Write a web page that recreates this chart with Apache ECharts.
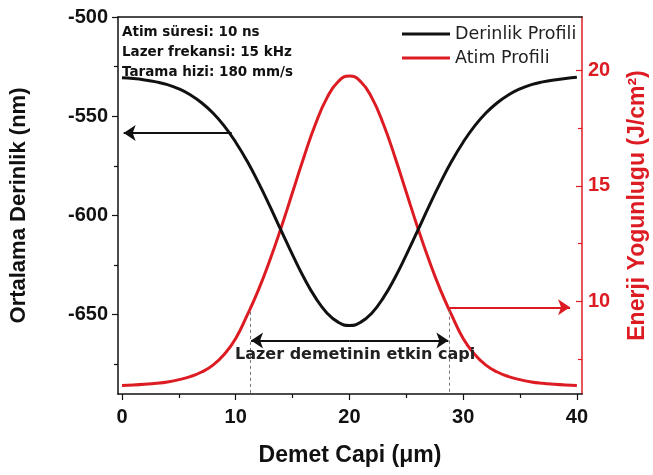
<!DOCTYPE html>
<html>
<head>
<meta charset="utf-8">
<script src="https://cdn.jsdelivr.net/npm/echarts@6/dist/echarts.min.js"></script>
<style>
html,body{margin:0;padding:0;background:#fff;}
#chart{width:653px;height:475px;}
</style>
</head>
<body>
<div id="chart"></div>
<script>
// ---- data ----
const xValues = [0,1,2,3,4,5,6,7,8,9,10,11,12,13,14,15,16,17,18,19,20,21,22,23,24,25,26,27,28,29,30,31,32,33,34,35,36,37,38,39,40];
const depthProfile = [-530.6,-531.0,-531.7,-532.7,-534.1,-536.2,-539.2,-543.2,-548.4,-555.0,-563.1,-572.6,-583.5,-595.3,-607.7,-619.9,-631.4,-641.3,-649.0,-653.8,-655.5,
  -653.8,-649.0,-641.3,-631.4,-619.9,-607.7,-595.3,-583.5,-572.6,-563.1,-555.0,-548.4,-543.2,-539.2,-536.2,-534.1,-532.7,-531.7,-531.0,-530.4];
const pulseProfile = [6.37,6.39,6.42,6.46,6.52,6.62,6.75,6.95,7.25,7.72,8.4,9.4,10.5,11.78,13.2,14.72,16.25,17.65,18.78,19.5,19.75,
  19.5,18.78,17.65,16.25,14.72,13.2,11.78,10.5,9.4,8.4,7.72,7.25,6.95,6.75,6.62,6.52,6.46,6.42,6.39,6.37];
const xMajorTicks = [0,10,20,30,40];
const xMinorTicks = [5,15,25,35];
const leftMajorTicks = [-650,-600,-550,-500];
const leftMinorTicks = [-675,-625,-575,-525];
const rightMajorTicks = [10,15,20];
const rightMinorTicks = [7.5,12.5,17.5];
const seriesNames = ['Derinlik Profili','Atim Profili'];
const infoLines = ['Atim süresi: 10 ns','Lazer frekansi: 15 kHz','Tarama hizi: 180 mm/s'];
const beamLabel = 'Lazer demetinin etkin capi';
const beamEdges = [11.25, 28.8];

const RED = '#dc1c22';
const BLK = '#111111';
const FONT = '"Liberation Sans", Arial, sans-serif';

const chart = echarts.init(document.getElementById('chart'));
const depthData = xValues.map((x,i)=>[x, depthProfile[i]]);
const pulseData = xValues.map((x,i)=>[x, pulseProfile[i]]);

const tickLabel = {fontFamily: FONT, fontWeight: 'bold', fontSize: 20, color: BLK};

chart.setOption({
  animation: false,
  grid: {left: 118, right: 71, top: 17, bottom: 81, containLabel: false, outerBoundsMode: 'none'},
  legend: {
    left: 397, top: 19, orient: 'vertical',
    icon: 'rect', itemWidth: 48, itemHeight: 3, itemGap: 4,
    textStyle: {fontFamily: '"DejaVu Sans", sans-serif', fontSize: 17.5, color: '#222', lineHeight: 20},
    data: seriesNames
  },
  xAxis: [
    {type: 'value', min: -0.35, max: 40.45, position: 'bottom',
     axisLine: {show: true, onZero: false, lineStyle: {color: BLK, width: 1.5}},
     axisTick: {show: true, customValues: xMajorTicks, length: 6, inside: false, lineStyle: {color: BLK, width: 1.2}},
     axisLabel: {customValues: xMajorTicks, margin: 13, ...tickLabel},
     splitLine: {show: false},
     name: 'Demet Capi (μm)', nameLocation: 'middle', nameGap: 50,
     nameTextStyle: {fontFamily: FONT, fontWeight: 'bold', fontSize: 23, color: BLK}},
    {type: 'value', min: -0.35, max: 40.45, position: 'bottom',
     axisLine: {show: false, onZero: false},
     axisTick: {show: true, customValues: xMinorTicks, length: 4, lineStyle: {color: BLK, width: 1.2}},
     axisLabel: {show: false}, splitLine: {show: false}},
    {type: 'value', min: -0.35, max: 40.45, position: 'top',
     axisLine: {show: true, onZero: false, lineStyle: {color: BLK, width: 1.5}},
     axisTick: {show: false}, axisLabel: {show: false}, splitLine: {show: false}}
  ],
  yAxis: [
    {type: 'value', min: -690, max: -500, position: 'left',
     axisLine: {show: true, onZero: false, lineStyle: {color: BLK, width: 1.5}},
     axisTick: {show: true, customValues: leftMajorTicks, length: 6, lineStyle: {color: BLK, width: 1.2}},
     axisLabel: {customValues: leftMajorTicks, margin: 10, ...tickLabel},
     splitLine: {show: false},
     name: 'Ortalama Derinlik (nm)', nameLocation: 'middle', nameGap: 88, nameRotate: 90,
     nameTextStyle: {fontFamily: FONT, fontWeight: 'bold', fontSize: 22, color: BLK}},
    {type: 'value', min: -690, max: -500, position: 'left',
     axisLine: {show: false, onZero: false},
     axisTick: {show: true, customValues: leftMinorTicks, length: 4, lineStyle: {color: BLK, width: 1.2}},
     axisLabel: {show: false}, splitLine: {show: false}},
    {type: 'value', min: 6, max: 22.3, position: 'right',
     axisLine: {show: true, onZero: false, lineStyle: {color: RED, width: 1.5}},
     axisTick: {show: true, inside: true, customValues: rightMajorTicks, length: 6, lineStyle: {color: RED, width: 1.2}},
     axisLabel: {customValues: rightMajorTicks, margin: 6, ...tickLabel, color: RED},
     splitLine: {show: false},
     name: 'Enerji Yogunlugu (J/cm²)', nameLocation: 'middle', nameGap: 44, nameRotate: 90,
     nameTextStyle: {fontFamily: FONT, fontWeight: 'bold', fontSize: 23, color: RED}},
    {type: 'value', min: 6, max: 22.3, position: 'right',
     axisLine: {show: false, onZero: false},
     axisTick: {show: true, inside: true, customValues: rightMinorTicks, length: 4, lineStyle: {color: RED, width: 1.2}},
     axisLabel: {show: false}, splitLine: {show: false}}
  ],
  graphic: infoLines.map((t,i)=>({
    type: 'text', left: 122, top: 25 + i*20, z: 10,
    style: {text: t, fontFamily: '"DejaVu Sans", sans-serif', fontWeight: 'bold', fontSize: 13.5, fill: BLK}
  })),
  series: [
    {name: seriesNames[0], type: 'line', xAxisIndex: 0, yAxisIndex: 0, data: depthData,
     smooth: true, symbol: 'none', lineStyle: {color: BLK, width: 3}, itemStyle: {color: BLK}, z: 3,
     markLine: {silent: true, animation: false, symbol: ['none','arrow'], symbolSize: 12,
       label: {show: false},
       lineStyle: {color: BLK, width: 2, type: 'solid'},
       data: [
         [{coord: [9.65, -558.5]}, {coord: [0.15, -558.5]}],
         [{coord: [20, -663], symbol: 'none'}, {coord: [beamEdges[0] + 0.1, -663]}],
         [{coord: [20, -663], symbol: 'none'}, {coord: [beamEdges[1] - 0.1, -663]}]
       ]},
     markPoint: {silent: true, symbol: 'rect', symbolSize: 1, itemStyle: {color: 'rgba(0,0,0,0)'},
       label: {show: true, position: 'inside', formatter: beamLabel, fontFamily: '"DejaVu Sans", sans-serif', fontWeight: 'bold', fontSize: 16, color: '#222'},
       data: [{coord: [20.5, -670.5]}]}
    },
    {name: seriesNames[1], type: 'line', xAxisIndex: 0, yAxisIndex: 2, data: pulseData,
     smooth: true, symbol: 'none', lineStyle: {color: RED, width: 3}, itemStyle: {color: RED}, z: 2,
     markLine: {silent: true, animation: false, symbol: ['none','arrow'], symbolSize: 12,
       label: {show: false},
       lineStyle: {color: RED, width: 2, type: 'solid'},
       data: [
         [{coord: [28.8, 9.75]}, {coord: [39.4, 9.75]}],
         [{coord: [beamEdges[0], 9.55], symbol: 'none', lineStyle: {color: '#777', width: 1, type: [3,3]}}, {coord: [beamEdges[0], 6.05], symbol: 'none'}],
         [{coord: [beamEdges[1], 9.6], symbol: 'none', lineStyle: {color: '#777', width: 1, type: [3,3]}}, {coord: [beamEdges[1], 6.05], symbol: 'none'}]
       ]}
    }
  ]
});
</script>
</body>
</html>
